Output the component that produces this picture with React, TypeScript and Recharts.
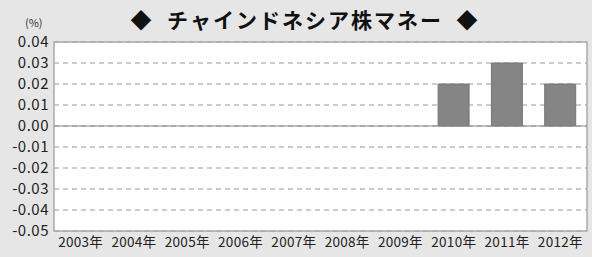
import { ComposedChart, Bar, XAxis, YAxis, CartesianGrid, ReferenceLine, ReferenceArea } from "recharts";

const years = ["2003年", "2004年", "2005年", "2006年", "2007年", "2008年", "2009年", "2010年", "2011年", "2012年"];
const values = [0, 0, 0, 0, 0, 0, 0, 0.02, 0.03, 0.02];
const yTicks = [0.04, 0.03, 0.02, 0.01, 0, -0.01, -0.02, -0.03, -0.04, -0.05];

const data = years.map((year, i) => ({ year, value: values[i] }));

const font = '"Noto Sans CJK JP", "Noto Sans", sans-serif';

export default function App() {
  return (
    <div
      style={{
        position: "absolute",
        left: 0,
        top: 0,
        width: 592,
        height: 257,
        background: "#e6e6e6",
        fontFamily: font,
      }}
    >
      <div
        style={{
          position: "absolute",
          left: 0,
          width: 610,
          top: 5,
          textAlign: "center",
          fontSize: 21,
          fontWeight: 700,
          color: "#111",
          lineHeight: "28px",
          letterSpacing: 2,
          whiteSpace: "pre",
        }}
      >
        {"◆  チャインドネシア株マネー  ◆"}
      </div>
      <div style={{ position: "absolute", left: 25, top: 14, fontSize: 11, color: "#333" }}>(%)</div>
      <ComposedChart
        width={592}
        height={257}
        data={data}
        margin={{ top: 42, right: 5, bottom: 0, left: 0 }}
        style={{ position: "absolute", left: 0, top: 0 }}
      >
        <CartesianGrid vertical={false} fill="#fff" stroke="#999" strokeDasharray="5 4" />
        <XAxis
          dataKey="year"
          height={26}
          axisLine={false}
          tickLine={false}
          tickSize={0}
          tickMargin={6}
          interval={0}
          tick={{ fontSize: 13.5, fill: "#222", fontFamily: font, letterSpacing: 0.3 }}
        />
        <YAxis
          domain={[-0.05, 0.04]}
          ticks={yTicks}
          interval={0}
          width={54}
          axisLine={false}
          tickLine={false}
          tickSize={0}
          tickMargin={5}
          tickFormatter={(v: number) => v.toFixed(2)}
          tick={{ fontSize: 15, fill: "#222", fontFamily: font, letterSpacing: 0.5 }}
        />
        <ReferenceLine y={0} stroke="#888" strokeWidth={1} />
        <Bar dataKey="value" fill="#858585" stroke="#777" barSize={31} isAnimationActive={false} />
        <ReferenceArea y1={-0.05} y2={0.04} fill="none" stroke="#aaa" strokeWidth={1.5} />
      </ComposedChart>
    </div>
  );
}
